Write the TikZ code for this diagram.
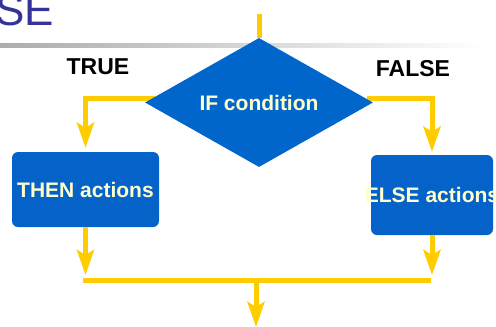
\documentclass[tikz,border=0pt]{standalone}
\usepackage{fontspec}
\setmainfont{Liberation Sans}
\usetikzlibrary{shapes.geometric,arrows.meta,calc,backgrounds}
\definecolor{flowblue}{RGB}{0,102,204}
\definecolor{boxblue}{RGB}{4,98,200}
\definecolor{flowyellow}{RGB}{255,204,0}
\definecolor{cream}{RGB}{255,255,204}
\definecolor{titleblue}{RGB}{51,51,153}
\tikzset{
  decision/.style={diamond, shape aspect=1.77, fill=flowblue, minimum width=228pt, minimum height=129pt, inner sep=0pt, text=cream, font=\fontsize{21}{25}\selectfont\bfseries},
  actbox/.style={rectangle, rounded corners=6pt, fill=boxblue, inner sep=0pt, text=cream, font=\fontsize{21}{25}\selectfont\bfseries},
  branchlabel/.style={inner sep=0pt, text=black, font=\fontsize{23}{27}\selectfont\bfseries},
  flowline/.style={draw=flowyellow, line width=5pt},
  flowarrow/.style={flowline, -{Stealth[length=25pt,width=17pt,inset=5pt]}},
}
\begin{document}
\begin{tikzpicture}[x=1pt,y=-1pt]
\useasboundingbox (0,0) rectangle (496,327);
\clip (0,0) rectangle (496,327);
% title fragment and rule
\node[anchor=base east, inner sep=0pt, text=titleblue, font=\fontsize{44}{50}\selectfont] (title) at (54,25) {SE};
\shade[left color=gray!65, right color=white] (0,43) rectangle (485,47);
% nodes
\node[decision] (if) at (259,102.5) {IF condition};
\node[actbox, minimum width=147pt, minimum height=75pt] (then) at (85.5,189.5) {THEN actions};
\node[actbox, minimum width=122pt, minimum height=80pt] (else) at (432,195) {\makebox[0pt]{ELSE actions}};
\node[branchlabel] (true) at (98,67) {TRUE};
\node[branchlabel] (false) at (413,68.5) {FALSE};
% coordinates
\coordinate (topin) at (259,14);
\coordinate (jl) at (83,280);
\coordinate (jr) at (431,280);
\coordinate (jm) at (256,277.5);
\coordinate (out) at (256,327);
\begin{pgfonlayer}{background}
\draw[flowline] (topin) -- (if.north);
\draw[flowarrow] ($(if.west)+(10,-4)$) -| ($(then.north)+(0,-4)$);
\draw[flowarrow] ($(if.east)+(-6,-4)$) -| ($(else.north)+(0,-3)$);
\end{pgfonlayer}
\draw[flowarrow] (then.south) -- ($(then.south |- jl)+(0,-5)$);
\draw[flowarrow] (else.south) -- ($(else.south |- jr)+(0,-5)$);
\draw[flowline] (jl) -- (jr);
\draw[flowarrow] (jm) -- (out);
\end{tikzpicture}
\end{document}
